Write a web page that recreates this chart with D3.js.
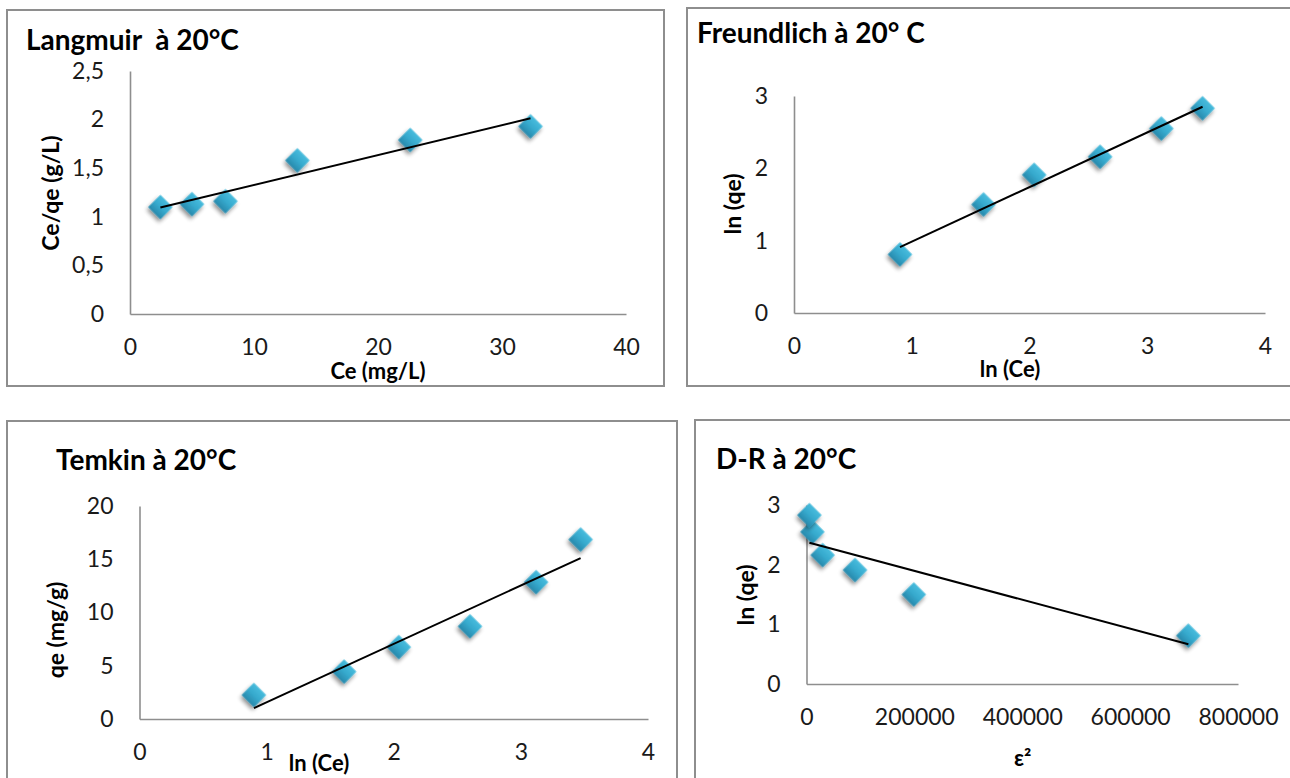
<!DOCTYPE html>
<html>
<head>
<meta charset="utf-8">
<script src="https://cdn.jsdelivr.net/npm/d3@7"></script>
<style>
  html, body { margin: 0; padding: 0; background: #fff; }
  svg { display: block; font-family: Lato, "Open Sans", sans-serif; }
</style>
</head>
<body>
<svg id="chart" width="1290" height="778"></svg>
<script>
// Adsorption isotherms at 20 °C — six equilibrium points
const ce        = [2.45, 5.0, 7.7, 13.5, 22.6, 32.3];        // Ce (mg/L)
const ceOverQe  = [1.10, 1.13, 1.16, 1.58, 1.79, 1.93];      // Ce/qe (g/L)
const lnCe      = [0.90, 1.61, 2.04, 2.60, 3.12, 3.47];      // ln(Ce)
const lnQe      = [0.81, 1.50, 1.91, 2.16, 2.55, 2.83];      // ln(qe)
const qe        = [2.25, 4.45, 6.75, 8.70, 12.85, 16.85];    // qe (mg/g)
const epsilonSq = [708000, 199000, 90000, 30000, 11000, 5400]; // ε²

// Axis ticks
const langmuirXTicks   = [0, 10, 20, 30, 40];
const langmuirYTicks   = [0, 0.5, 1, 1.5, 2, 2.5];
const freundlichXTicks = [0, 1, 2, 3, 4];
const freundlichYTicks = [0, 1, 2, 3];
const temkinXTicks     = [0, 1, 2, 3, 4];
const temkinYTicks     = [0, 5, 10, 15, 20];
const drXTicks         = [0, 200000, 400000, 600000, 800000];
const drYTicks         = [0, 1, 2, 3];

// Labels
const titles  = ["Langmuir  à 20°C", "Freundlich à 20° C", "Temkin à 20°C", "D-R à 20°C"];
const xTitles = ["Ce (mg/L)", "ln (Ce)", "ln (Ce)", "ε²"];
const yTitles = ["Ce/qe (g/L)", "ln (qe)", "qe (mg/g)", "ln (qe)"];

// French decimal comma
const frNum = v => String(v).replace(".", ",");

// Least-squares linear trend across the x extent of the data
function linearTrend(xs, ys) {
  const mx = d3.mean(xs), my = d3.mean(ys);
  const sxy = d3.sum(xs, (x, i) => (x - mx) * (ys[i] - my));
  const sxx = d3.sum(xs, x => (x - mx) * (x - mx));
  const b = sxy / sxx, a = my - b * mx;
  const [x0, x1] = d3.extent(xs);
  return [[x0, a + b * x0], [x1, a + b * x1]];
}

const panels = [
  { xs: ce, ys: ceOverQe, xDomain: [0, 40], yDomain: [0, 2.5],
    xTicks: langmuirXTicks, yTicks: langmuirYTicks,
    box: [7, 10, 664, 386], px: [130, 626], py: [314, 71],
    titlePos: [26, 50], xTitlePos: [378, 379], yTitlePos: [50.5, 193] },
  { xs: lnCe, ys: lnQe, xDomain: [0, 4], yDomain: [0, 3],
    xTicks: freundlichXTicks, yTicks: freundlichYTicks,
    box: [687, 8, 1294, 386], px: [794, 1265], py: [313, 96],
    titlePos: [697, 43], xTitlePos: [1010, 377], yTitlePos: [732.5, 204] },
  { xs: lnCe, ys: qe, xDomain: [0, 4], yDomain: [0, 20],
    xTicks: temkinXTicks, yTicks: temkinYTicks,
    box: [7, 421, 677, 800], px: [139.5, 648], py: [719, 506],
    titlePos: [56, 470], xTitlePos: [319, 771], yTitlePos: [55.6, 630] },
  { xs: epsilonSq, ys: lnQe, xDomain: [0, 800000], yDomain: [0, 3],
    xTicks: drXTicks, yTicks: drYTicks,
    box: [695, 420, 1294, 800], px: [806.5, 1238], py: [684, 505],
    titlePos: [716, 469], xTitlePos: [1022.6, 766], yTitlePos: [745.5, 595] }
];

const svg = d3.select("#chart");
svg.append("rect").attr("width", 1290).attr("height", 778).attr("fill", "#fff");

// Marker fill and soft drop shadow
const defs = svg.append("defs");
const grad = defs.append("linearGradient").attr("id", "markerFill")
  .attr("x1", 0).attr("y1", 0).attr("x2", 0).attr("y2", 1);
grad.append("stop").attr("offset", "0%").attr("stop-color", "#48bcdd");
grad.append("stop").attr("offset", "50%").attr("stop-color", "#36a9cd");
grad.append("stop").attr("offset", "100%").attr("stop-color", "#2789ac");
const shadow = defs.append("filter").attr("id", "markerShadow")
  .attr("x", "-50%").attr("y", "-50%").attr("width", "200%").attr("height", "200%");
shadow.append("feGaussianBlur").attr("in", "SourceAlpha").attr("stdDeviation", 2.2).attr("result", "blur");
shadow.append("feOffset").attr("in", "blur").attr("dx", 1).attr("dy", 3).attr("result", "off");
shadow.append("feComponentTransfer").attr("in", "off").attr("result", "soft")
  .append("feFuncA").attr("type", "linear").attr("slope", 0.45);
const merge = shadow.append("feMerge");
merge.append("feMergeNode").attr("in", "soft");
merge.append("feMergeNode").attr("in", "SourceGraphic");

const diamond = d3.symbol().type(d3.symbolSquare).size(300);

panels.forEach((p, i) => {
  const g = svg.append("g");
  const [bx0, by0, bx1, by1] = p.box;

  g.append("rect")
    .attr("x", bx0).attr("y", by0)
    .attr("width", bx1 - bx0).attr("height", by1 - by0)
    .attr("fill", "#fff").attr("stroke", "#8e8e8e").attr("stroke-width", 2);

  const x = d3.scaleLinear().domain(p.xDomain).range(p.px);
  const y = d3.scaleLinear().domain(p.yDomain).range(p.py);

  const xAxis = g.append("g")
    .attr("transform", `translate(0,${p.py[0]})`)
    .call(d3.axisBottom(x).tickValues(p.xTicks).tickFormat(frNum)
      .tickSize(0).tickSizeOuter(0).tickPadding(25));
  const yAxis = g.append("g")
    .attr("transform", `translate(${p.px[0]},0)`)
    .call(d3.axisLeft(y).tickValues(p.yTicks).tickFormat(frNum)
      .tickSize(0).tickSizeOuter(0).tickPadding(26));

  [xAxis, yAxis].forEach(ax => {
    ax.select(".domain").attr("stroke", "#8e8e8e").attr("stroke-width", 1.6);
    ax.selectAll("text")
      .attr("fill", "#1a1a1a")
      .style("font-size", "23px")
      .style("font-family", "Lato, 'Open Sans', sans-serif");
  });

  // Data markers
  g.append("g").selectAll("path")
    .data(p.xs.map((v, k) => [v, p.ys[k]]))
    .join("path")
    .attr("d", diamond)
    .attr("transform", d => `translate(${x(d[0])},${y(d[1])}) rotate(45)`)
    .attr("fill", "url(#markerFill)")
    .attr("filter", "url(#markerShadow)");

  // Linear trendline
  const trend = linearTrend(p.xs, p.ys);
  g.append("path")
    .attr("d", d3.line().x(d => x(d[0])).y(d => y(d[1]))(trend))
    .attr("fill", "none").attr("stroke", "#000").attr("stroke-width", 2);

  // Titles
  g.append("text")
    .attr("x", p.titlePos[0]).attr("y", p.titlePos[1])
    .attr("font-size", 28).attr("font-weight", 700).attr("fill", "#000")
    .attr("xml:space", "preserve").style("white-space", "pre")
    .text(titles[i]);

  g.append("text")
    .attr("x", p.xTitlePos[0]).attr("y", p.xTitlePos[1])
    .attr("text-anchor", "middle")
    .attr("font-size", 22).attr("font-weight", 700).attr("fill", "#000")
    .text(xTitles[i]);

  g.append("text")
    .attr("transform", `translate(${p.yTitlePos[0] + 8},${p.yTitlePos[1]}) rotate(-90)`)
    .attr("text-anchor", "middle")
    .attr("font-size", 23).attr("font-weight", 700).attr("fill", "#000")
    .text(yTitles[i]);
});
</script>
</body>
</html>
